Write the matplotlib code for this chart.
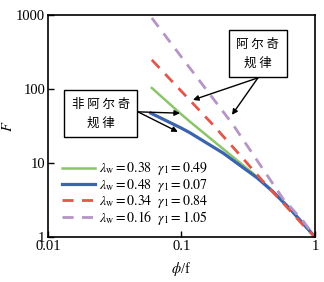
import matplotlib
matplotlib.use("Agg")
import matplotlib.pyplot as plt

plt.rcParams['font.family'] = ['Liberation Serif', 'Noto Sans CJK SC']
plt.rcParams['mathtext.fontset'] = 'stix'

# phi/f and F
x_green = [0.06, 0.0975, 0.116, 0.205, 0.368, 0.46, 0.65, 1.0]
F_green = [103, 47, 36, 15.5, 6.5, 4.5, 2.35, 1.0]
x_blue = [0.059, 0.0992, 0.116, 0.205, 0.368, 0.484, 0.65, 1.0]
F_blue = [47, 29.7, 25.5, 13.6, 6.3, 4.1, 2.4, 1.0]
x_red = [0.06, 0.169, 0.274, 0.437, 0.575, 0.813, 1.0]
F_red = [247, 34, 12.8, 4.9, 2.9, 1.45, 1.0]
x_purple = [0.06, 0.1, 0.243, 0.387, 0.575, 0.813, 1.0]
F_purple = [910, 270, 33, 9.5, 3.3, 1.65, 1.0]

lam_w = ['0.38', '0.48', '0.34', '0.16']
gam_1 = ['0.49', '0.07', '0.84', '1.05']
labels = [r'$\lambda_{\rm w}{=}\mathrm{%s}\ \ \gamma_1{=}\mathrm{%s}$' % (a, b)
          for a, b in zip(lam_w, gam_1)]

fig = plt.figure(figsize=(3.24, 2.82), dpi=100)
ax = fig.add_axes([0.148, 0.16, 0.824, 0.787])

ax.plot(x_green, F_green, color='#8cc46c', lw=1.8, label=labels[0])
ax.plot(x_blue, F_blue, color='#3a64ae', lw=2.3, label=labels[1])
ax.plot(x_red, F_red, color='#e0574c', lw=2.0, ls=(0, (4, 3)), label=labels[2])
ax.plot(x_purple, F_purple, color='#b495c6', lw=2.0, ls=(0, (4, 3)), label=labels[3])

ax.set_xscale('log')
ax.set_yscale('log')
ax.set_xlim(0.01, 1)
ax.set_ylim(1, 1000)
ax.set_xticks([0.01, 0.1, 1])
ax.set_xticklabels(['0.01', '0.1', '1'])
ax.set_yticks([1, 10, 100, 1000])
ax.set_yticklabels(['1', '10', '100', '1000'])
ax.minorticks_off()
ax.tick_params(direction='in', length=4, labelsize=10.5, width=1, pad=2)
for s in ax.spines.values():
    s.set_linewidth(1.2)

ax.set_xlabel(r'$\phi$/f', fontsize=10.5, labelpad=5)
ax.set_ylabel(r'$F$', fontsize=10.5, labelpad=1)

ax.legend(loc='lower left', bbox_to_anchor=(0.03, 0.02), frameon=False,
          fontsize=10, handlelength=2.4, handletextpad=0.3, labelspacing=-0.06,
          borderaxespad=0.0)

box = dict(boxstyle='square,pad=0.6', fc='white', ec='black', lw=1)
arr = dict(arrowstyle='-|>', color='black', lw=1, mutation_scale=8, shrinkA=0, shrinkB=0)

# "Archie" box and arrows
ax.text(0.374, 297, '阿 尔 奇\n规 律', fontsize=9, family='Noto Sans CJK SC',
        ha='center', va='center', linespacing=1.6, bbox=box, zorder=5)
ax.annotate('', xy=(0.122, 71), xytext=(0.374, 141), arrowprops=arr)
ax.annotate('', xy=(0.239, 44.6), xytext=(0.374, 141), arrowprops=arr)

# "non-Archie" box and arrows
ax.text(0.0249, 46, '非 阿 尔 奇\n规 律', fontsize=9, family='Noto Sans CJK SC',
        ha='center', va='center', linespacing=1.6, bbox=box, zorder=5)
ax.annotate('', xy=(0.0975, 47), xytext=(0.0472, 49), arrowprops=arr)
ax.annotate('', xy=(0.094, 26.3), xytext=(0.0472, 49), arrowprops=arr)

fig.savefig('out.png', dpi=100)
